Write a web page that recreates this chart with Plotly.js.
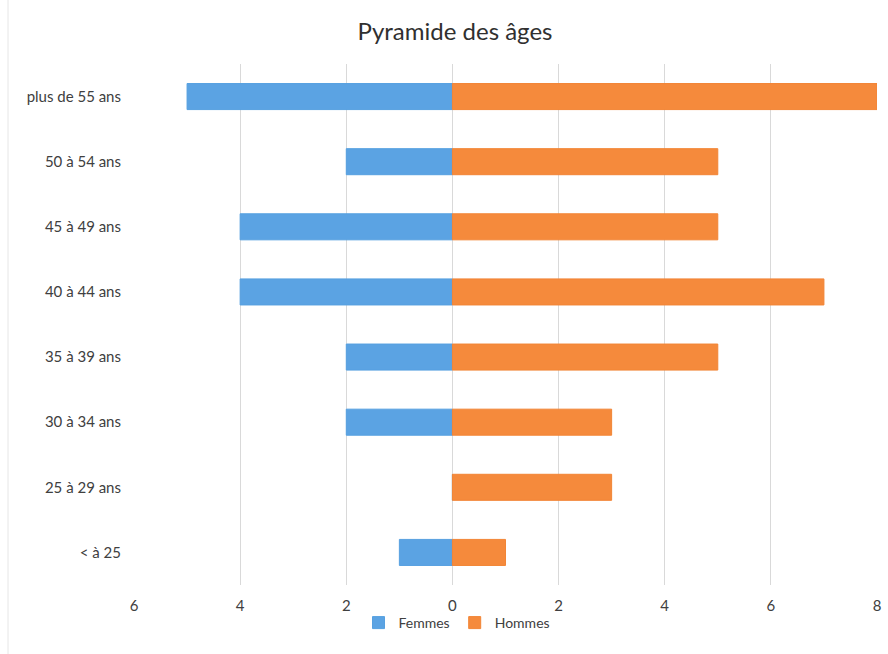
<!DOCTYPE html>
<html>
<head>
<meta charset="utf-8">
<script src="https://cdn.plot.ly/plotly-3.0.1.min.js"></script>
<style>html,body{margin:0;padding:0;background:#fff;}#chart{width:888px;height:654px;}</style>
</head>
<body>
<div id="chart"></div>
<script>
const categories = ["< à 25", "25 à 29 ans", "30 à 34 ans", "35 à 39 ans", "40 à 44 ans", "45 à 49 ans", "50 à 54 ans", "plus de 55 ans"];
const femmes = [1, 0, 2, 2, 4, 4, 2, 5];
const hommes = [1, 3, 3, 5, 7, 5, 5, 8];
const tickValues = [-6, -4, -2, 0, 2, 4, 6, 8];
const tickLabels = ["6", "4", "2", "0", "2", "4", "6", "8"];

const font = "Lato, 'Open Sans', sans-serif";

const data = [
  {
    type: "bar", orientation: "h", name: "Femmes",
    y: categories, x: femmes.map(v => -v),
    marker: {color: "#5BA3E3", line: {color: "#56a0e0", width: 1}},
    hoverinfo: "skip"
  },
  {
    type: "bar", orientation: "h", name: "Hommes",
    y: categories, x: hommes,
    marker: {color: "#F58A3C", line: {color: "#f28536", width: 1}},
    hoverinfo: "skip"
  }
];

const layout = {
  width: 888, height: 654,
  paper_bgcolor: "#ffffff", plot_bgcolor: "#ffffff",
  margin: {l: 134, r: 11, t: 64, b: 69},
  barmode: "relative",
  bargap: 0.6,
  font: {family: font, color: "#404040", size: 15},
  title: {text: "Pyramide des âges", x: 455/888, xref: "container", xanchor: "center",
          y: 1 - 32/654, yref: "container", yanchor: "middle",
          font: {family: font, size: 24, color: "#303030"}},
  xaxis: {
    range: [-6, 8], tickvals: tickValues, ticktext: tickLabels,
    showgrid: true, gridcolor: "#d9d9d9", gridwidth: 1,
    zeroline: false, showline: false, ticks: "",
    ticklabelstandoff: 10,
    tickfont: {family: font, size: 15, color: "#404040"},
    fixedrange: true
  },
  yaxis: {
    type: "category", categoryorder: "array", categoryarray: categories,
    showgrid: false, zeroline: false, showline: false, ticks: "",
    ticklabelstandoff: 12,
    tickfont: {family: font, size: 15, color: "#404040"},
    fixedrange: true
  },
  showlegend: true,
  legend: {orientation: "h", xref: "container", yref: "container",
           x: 457/888, xanchor: "center", y: 1 - 623/654, yanchor: "middle",
           bgcolor: "rgba(0,0,0,0)", borderwidth: 0,
           font: {family: font, size: 14, color: "#404040"},
           itemwidth: 30, traceorder: "normal"},
  shapes: [
    {type: "line", xref: "paper", yref: "paper", x0: -126/743, x1: -126/743, y0: -1, y1: 1.2,
     line: {color: "#e6e6e6", width: 1}}
  ]
};

Plotly.newPlot("chart", data, layout, {displayModeBar: false, staticPlot: true});
</script>
</body>
</html>
